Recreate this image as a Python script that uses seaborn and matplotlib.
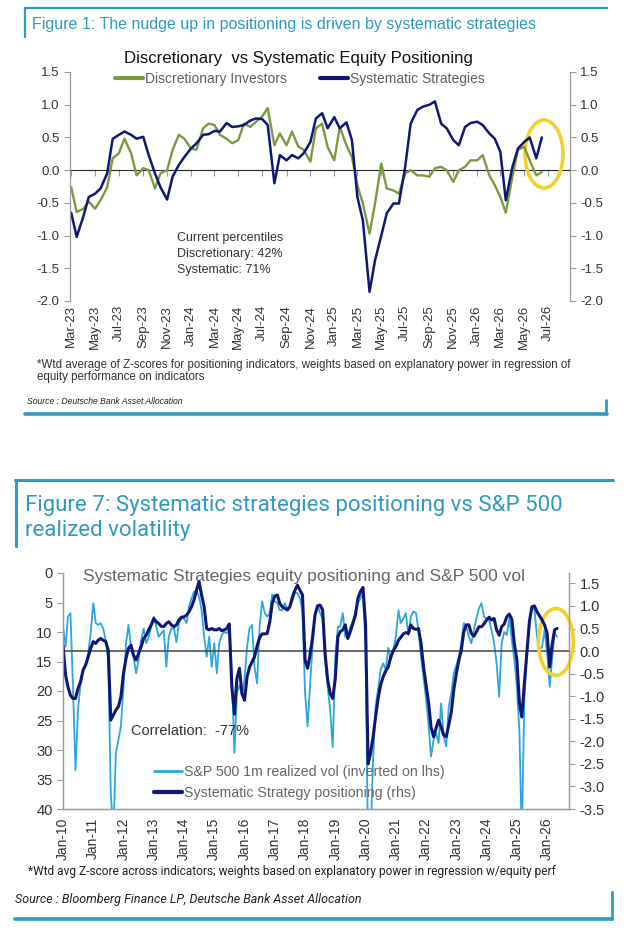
import matplotlib
matplotlib.use('Agg')
import matplotlib.pyplot as plt
import matplotlib.dates as mdates
from matplotlib.patches import Ellipse
from matplotlib.lines import Line2D
from matplotlib.ticker import FormatStrFormatter, MultipleLocator
import pandas as pd
import seaborn as sns

sns.set_style('white')
plt.rcParams['font.family'] = ['Liberation Sans', 'DejaVu Sans']
plt.rcParams['axes.unicode_minus'] = False

# ---------------- Figure 1 data: semi-monthly z-scores, Mar-23 .. Jun-26
top_start = '2023-03-01'
discretionary = [
    -0.26, -0.64, -0.59, -0.48, -0.59, -0.46, -0.26, 0.18, 0.26, 0.48,
    0.26, -0.08, 0.03, 0.00, -0.28, -0.05, 0.00, 0.31, 0.54, 0.48,
    0.33, 0.31, 0.64, 0.71, 0.69, 0.54, 0.48, 0.41, 0.46, 0.71,
    0.66, 0.74, 0.82, 0.95, 0.38, 0.56, 0.38, 0.59, 0.36, 0.31,
    0.13, 0.64, 0.71, 0.35, 0.15, 0.66, 0.38, 0.20, -0.23, -0.51,
    -0.97, -0.51, 0.10, -0.28, -0.31, -0.36, -0.05, 0.00, -0.08, -0.08,
    -0.10, 0.03, 0.05, 0.00, -0.18, 0.00, 0.05, 0.15, 0.15, 0.23,
    -0.08, -0.23, -0.41, -0.65, -0.10, 0.31, 0.36, 0.15, -0.08, -0.03]
systematic = [
    -0.65, -1.02, -0.71, -0.41, -0.36, -0.28, -0.05, 0.48, 0.54, 0.59,
    0.54, 0.48, 0.51, 0.23, -0.05, -0.26, -0.45, -0.10, 0.08, 0.20,
    0.33, 0.41, 0.54, 0.55, 0.60, 0.59, 0.72, 0.66, 0.67, 0.69,
    0.76, 0.79, 0.78, 0.69, -0.20, 0.23, 0.15, 0.23, 0.18, 0.26,
    0.43, 0.79, 0.87, 0.64, 0.81, 0.64, 0.73, 0.46, -0.41, -0.77,
    -1.86, -1.38, -1.00, -0.66, -0.51, -0.51, 0.05, 0.71, 0.92, 0.97,
    1.00, 1.05, 0.71, 0.64, 0.46, 0.38, 0.66, 0.72, 0.74, 0.69,
    0.56, 0.48, 0.28, -0.46, 0.05, 0.33, 0.43, 0.50, 0.18, 0.50]
top_labels = ['Discretionary Investors', 'Systematic Strategies']

# ---------------- Figure 7 data: monthly, Jan-10 .. May-26
bot_start = '2010-01-01'
sp_vol = [
    9.1, 12.5, 7.4, 6.8, 19.3, 33.4, 23.2, 18.7, 16.4, 15.6,
    13.6, 10.2, 5.1, 8.5, 8.8, 8.5, 9.4, 11.4, 14.7, 37.4,
    44.0, 30.6, 28.3, 26.0, 19.3, 11.9, 8.8, 12.5, 14.2, 17.0,
    14.7, 11.4, 9.4, 11.9, 10.8, 9.1, 7.4, 9.1, 10.8, 10.2,
    9.7, 15.9, 10.8, 9.4, 9.4, 11.7, 8.5, 7.7, 7.7, 8.5,
    5.7, 4.3, 3.2, 3.0, 4.0, 6.3, 10.8, 14.2, 10.8, 15.9,
    11.9, 17.0, 11.9, 10.5, 10.0, 10.2, 9.4, 17.0, 30.5, 20.4,
    19.0, 20.7, 18.1, 12.5, 9.4, 8.8, 15.9, 18.7, 9.1, 4.8,
    6.8, 7.4, 6.8, 3.6, 4.8, 5.1, 6.3, 6.3, 5.1, 6.0,
    5.7, 4.8, 3.4, 3.4, 4.3, 6.3, 20.4, 26.0, 19.3, 12.5,
    6.8, 5.4, 6.8, 7.7, 14.7, 19.3, 23.4, 29.5, 14.2, 9.1,
    9.1, 6.8, 10.8, 10.8, 9.1, 8.2, 6.5, 5.1, 4.3, 3.4,
    12.5, 48.0, 45.0, 31.7, 22.7, 19.6, 16.4, 15.3, 16.4, 12.7,
    14.7, 13.0, 10.8, 6.3, 8.5, 7.7, 6.8, 10.5, 7.4, 6.5,
    6.8, 9.7, 14.2, 17.6, 21.5, 26.0, 31.1, 28.3, 27.1, 28.8,
    22.1, 27.7, 29.4, 22.7, 20.4, 17.0, 15.6, 14.2, 11.9, 8.5,
    9.1, 10.8, 11.9, 9.7, 7.7, 6.0, 5.1, 7.4, 7.7, 8.0,
    9.7, 11.9, 15.3, 21.0, 11.9, 10.0, 10.5, 7.7, 11.4, 14.7,
    19.3, 27.1, 45.0, 21.5, 13.6, 8.0, 5.7, 6.3, 10.8, 13.0,
    12.5, 9.7, 13.6, 19.3, 14.7, 10.2, 10.8]
sys_pos = [
    0.13, -0.53, -0.79, -0.98, -1.05, -1.05, -0.83, -0.68, -0.42, -0.31,
    -0.13, 0.06, 0.21, 0.17, 0.24, 0.28, 0.24, 0.21, 0.02, -1.53,
    -1.42, -1.31, -1.23, -1.01, -0.50, -0.16, 0.06, 0.13, -0.09, -0.20,
    -0.05, 0.10, 0.28, 0.35, 0.47, 0.58, 0.72, 0.65, 0.61, 0.55,
    0.54, 0.61, 0.65, 0.58, 0.54, 0.58, 0.69, 0.75, 0.76, 0.80,
    0.87, 0.98, 1.13, 1.35, 1.54, 1.24, 0.98, 0.50, 0.47, 0.50,
    0.47, 0.47, 0.50, 0.45, 0.47, 0.50, 0.60, -0.79, -1.40, -0.61,
    -0.38, -0.94, -1.09, -0.57, -0.36, -0.24, -0.13, 0.11, 0.30, 0.38,
    0.38, 0.39, 0.65, 1.06, 1.22, 1.24, 1.06, 0.98, 0.95, 0.91,
    0.98, 1.20, 1.35, 1.46, 1.35, 1.24, -0.20, -0.38, -0.10, 0.30,
    0.80, 1.00, 1.02, 0.91, -0.09, -0.64, -0.94, -1.05, -0.61, 0.32,
    0.43, 0.47, 0.58, 0.28, 0.43, 0.61, 0.80, 1.17, 1.32, 1.41,
    0.60, -2.50, -2.27, -1.90, -1.46, -1.05, -0.75, -0.57, -0.44, -0.35,
    -0.13, 0.01, 0.10, 0.24, 0.30, 0.38, 0.41, 0.39, 0.58, 0.50,
    0.48, 0.50, 0.17, -0.35, -0.75, -1.16, -1.68, -1.90, -1.71, -1.53,
    -1.68, -1.86, -1.90, -1.64, -1.35, -0.86, -0.50, -0.20, 0.01, 0.43,
    0.58, 0.58, 0.39, 0.33, 0.43, 0.54, 0.54, 0.60, 0.69, 0.75,
    0.69, 0.72, 0.47, 0.35, 0.54, 0.60, 0.76, 0.82, 0.70, 0.17,
    -0.20, -1.16, -1.46, -0.72, -0.05, 0.65, 0.98, 1.00, 0.87, 0.78,
    0.69, 0.58, 0.39, -0.35, 0.13, 0.47, 0.50]
bot_labels = ['S&P 500 1m realized vol (inverted on lhs)',
              'Systematic Strategy positioning (rhs)']

GREEN = '#7B9A3D'
NAVY = '#0F1775'
LIGHT = '#2AA7DF'
TEAL = '#2F9AC2'
YELLOW = '#F3D02C'
GREY = '#5F5F5F'
SPINE = '#9A9A9A'
ROBOTO = ['Roboto', 'DejaVu Sans']

W, H = 633, 940
fig = plt.figure(figsize=(W / 100, H / 100), dpi=100)


def fx(x):
    return x / W


def fy(y):
    return 1 - y / H


def hline(x0, x1, y, lw):
    fig.add_artist(Line2D([fx(x0), fx(x1)], [fy(y), fy(y)], color=TEAL, lw=lw,
                          transform=fig.transFigure))


def vline(x, y0, y1, lw):
    fig.add_artist(Line2D([fx(x), fx(x)], [fy(y0), fy(y1)], color=TEAL, lw=lw,
                          transform=fig.transFigure))


# ================= Figure 1 =================
hline(25, 607, 8, 1.6)
vline(25, 8, 37, 1.6)
fig.text(fx(32), fy(24), 'Figure 1: The nudge up in positioning is driven by systematic strategies',
         color=TEAL, fontsize=11.5, va='center', ha='left')
fig.text(fx(298), fy(58), 'Discretionary  vs Systematic Equity Positioning',
         color='#111111', fontsize=12.1, va='center', ha='center')

top = pd.DataFrame({
    'date': pd.date_range(top_start, periods=len(systematic), freq='SMS'),
    'disc': discretionary,
    'sys': systematic,
})

ax1 = fig.add_axes([fx(70), fy(301), fx(570) - fx(70), fy(72) - fy(301)])
sns.lineplot(data=top, x='date', y='disc', ax=ax1, color=GREEN, lw=1.7)
sns.lineplot(data=top, x='date', y='sys', ax=ax1, color=NAVY, lw=1.8)
ax1.set_ylim(-2.0, 1.5)
ax1.set_xlim(pd.Timestamp('2023-02-26'), pd.Timestamp('2026-08-26'))
ax1.set_xlabel('')
ax1.set_ylabel('')
top_ticks = pd.date_range('2023-03-01', '2026-07-01', freq='2MS')
ax1.set_xticks(top_ticks)
ax1.xaxis.set_major_formatter(mdates.DateFormatter('%b-%y'))
ax1.yaxis.set_major_locator(MultipleLocator(0.5))
ax1.yaxis.set_major_formatter(FormatStrFormatter('%.1f'))
ax1.tick_params(axis='x', length=0, labelsize=9.5, labelcolor='#333333', rotation=90, pad=3)
ax1.tick_params(axis='y', left=True, right=True, labelleft=True, labelright=True,
                length=4, width=0.8, color=SPINE, labelsize=9.5, labelcolor='#333333', direction='out')
for s in ['top', 'bottom']:
    ax1.spines[s].set_visible(False)
for s in ['left', 'right']:
    ax1.spines[s].set_color(SPINE)
    ax1.spines[s].set_linewidth(0.9)

zero_ax = ax1.secondary_xaxis(2.0 / 3.5)
zero_ax.set_xticks(top_ticks)
zero_ax.set_xticklabels([])
zero_ax.tick_params(direction='in', length=4, color=SPINE, width=0.8)
zero_ax.spines['bottom'].set_color(SPINE)
zero_ax.spines['bottom'].set_linewidth(0.9)

handles = [Line2D([], [], color=GREEN, lw=3), Line2D([], [], color=NAVY, lw=3)]
ax1.legend(handles, top_labels, loc='center', bbox_to_anchor=(0.46, 0.969), ncol=2,
           frameon=False, fontsize=10, labelcolor=GREY, handlelength=2.0,
           handletextpad=0.15, columnspacing=2.4, borderpad=0)
ax1.text(0.214, 0.30, 'Current percentiles\nDiscretionary: 42%\nSystematic: 71%',
         transform=ax1.transAxes, fontsize=9.0, color='#333333', va='top', ha='left',
         linespacing=1.4)
ax1.add_patch(Ellipse((0.948, 0.642), 0.076, 0.297, transform=ax1.transAxes,
                      fill=False, ec=YELLOW, lw=2.6, clip_on=False))

fig.text(fx(37), fy(371), '*Wtd average of Z-scores for positioning indicators, weights based on '
         'explanatory power in regression of\nequity performance on indicators',
         fontsize=8.3, color='#333333', va='center', ha='left', linespacing=1.1)
fig.text(fx(27), fy(402), 'Source : Deutsche Bank Asset Allocation', fontsize=6.2,
         style='italic', color='#222222', va='center', ha='left')
hline(25, 607, 414, 2.6)
vline(606, 400, 414, 2.0)

# ================= Figure 7 =================
hline(15, 613, 480, 2.2)
vline(16, 480, 546, 2.2)
fig.text(fx(25), fy(518), 'Figure 7: Systematic strategies positioning vs S&P 500\nrealized volatility',
         color=TEAL, fontsize=16, va='center', ha='left', linespacing=1.25, family=ROBOTO)

bot = pd.DataFrame({
    'date': pd.date_range(bot_start, periods=len(sys_pos), freq='MS'),
    'vol': sp_vol,
    'pos': sys_pos,
})

ax2 = fig.add_axes([fx(63), fy(809), fx(569) - fx(63), fy(573) - fy(809)])
ax3 = ax2.twinx()
sns.lineplot(data=bot, x='date', y='vol', ax=ax2, color=LIGHT, lw=1.3)
sns.lineplot(data=bot, x='date', y='pos', ax=ax3, color=NAVY, lw=2.2)
ax3.axhline(0, color='#444444', lw=1.1, zorder=0)
ax2.set_ylim(40, 0)
ax3.set_ylim(-3.5, 1.73)
ax2.set_xlim(pd.Timestamp('2010-01-01'), pd.Timestamp('2026-09-22'))
for a in (ax2, ax3):
    a.set_xlabel('')
    a.set_ylabel('')
    for s in a.spines.values():
        s.set_color(SPINE)
        s.set_linewidth(0.9)
    a.spines['top'].set_visible(False)
bot_ticks = pd.date_range('2010-01-01', '2026-01-01', freq='YS')
ax2.set_xticks(bot_ticks)
ax2.xaxis.set_major_formatter(mdates.DateFormatter('%b-%y'))
ax2.yaxis.set_major_locator(MultipleLocator(5))
ax3.set_yticks([v / 2 for v in range(-7, 4)])
ax3.yaxis.set_major_formatter(FormatStrFormatter('%.1f'))
ax2.tick_params(axis='x', length=4, color=SPINE, width=0.8, labelsize=10,
                labelcolor='#333333', rotation=90, pad=2)
ax2.tick_params(axis='y', length=4, color=SPINE, width=0.8, labelsize=10.5, labelcolor='#333333')
ax3.tick_params(axis='y', length=4, color=SPINE, width=0.8, labelsize=10.5, labelcolor='#333333')

ax2.text(0.04, 0.985, 'Systematic Strategies equity positioning and S&P 500 vol',
         transform=ax2.transAxes, fontsize=12.5, color='#666666', va='center', ha='left')
ax2.text(0.134, 0.33, 'Correlation:  -77%', transform=ax2.transAxes, fontsize=10.5,
         color='#333333', va='center', ha='left')
handles = [Line2D([], [], color=LIGHT, lw=2), Line2D([], [], color=NAVY, lw=3)]
ax3.legend(handles, bot_labels, loc='center left', bbox_to_anchor=(0.165, 0.112),
           frameon=False, fontsize=10.2, labelcolor='#666666', handlelength=2.0,
           handletextpad=0.15, labelspacing=0.5, borderpad=0)
ax3.add_patch(Ellipse((0.974, 0.708), 0.069, 0.284, transform=ax3.transAxes,
                      fill=False, ec=YELLOW, lw=2.6, clip_on=False))

fig.text(fx(28), fy(872), '*Wtd avg Z-score across indicators; weights based on explanatory '
         'power in regression w/equity perf', fontsize=8.6, color='#222222',
         va='center', ha='left', family=ROBOTO)
fig.text(fx(15), fy(900), 'Source : Bloomberg Finance LP, Deutsche Bank Asset Allocation',
         fontsize=9.0, style='italic', color='#222222', va='center', ha='left', family=ROBOTO)
hline(15, 612, 919, 2.6)
vline(612, 892, 919, 2.0)

fig.savefig('out.png', dpi=100)
